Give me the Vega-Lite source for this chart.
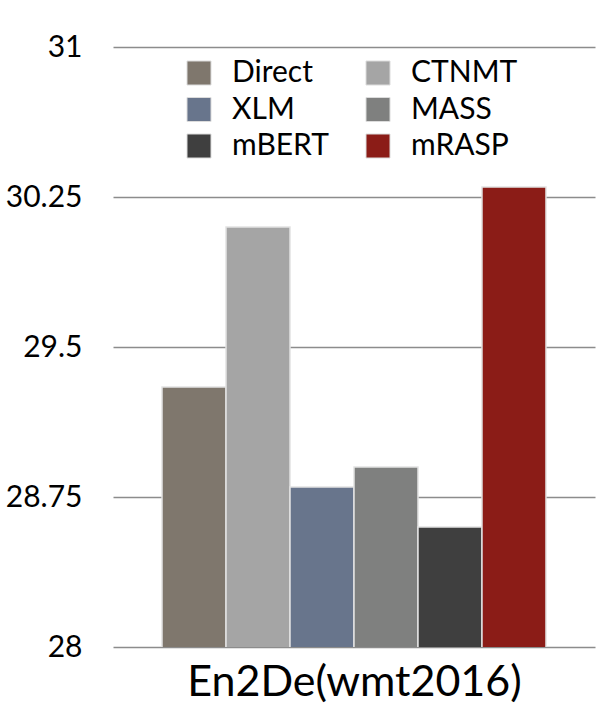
{
  "$schema": "https://vega.github.io/schema/vega-lite/v6.json",
  "width": 482,
  "height": 600,
  "autosize": {"type": "none"},
  "padding": {"left": 113, "top": 47, "right": 1, "bottom": 65},
  "background": "white",
  "config": {
    "view": {"stroke": null},
    "font": "Lato"
  },
  "data": {
    "values": [
      {"model": "Direct", "bleu": 29.3},
      {"model": "CTNMT", "bleu": 30.1},
      {"model": "XLM", "bleu": 28.8},
      {"model": "MASS", "bleu": 28.9},
      {"model": "mBERT", "bleu": 28.6},
      {"model": "mRASP", "bleu": 30.3}
    ]
  },
  "mark": {"type": "bar", "stroke": "#e2e2e2", "strokeWidth": 1.5, "clip": true},
  "encoding": {
    "x": {
      "field": "model",
      "type": "nominal",
      "sort": ["Direct", "CTNMT", "XLM", "MASS", "mBERT", "mRASP"],
      "scale": {"paddingInner": 0, "paddingOuter": 0.766},
      "axis": {
        "title": "En2De(wmt2016)",
        "labels": false,
        "ticks": false,
        "domain": false,
        "titleFont": "Lato",
        "titleFontSize": 43,
        "titleFontWeight": "normal",
        "titleColor": "black",
        "titlePadding": 14
      }
    },
    "y": {
      "field": "bleu",
      "type": "quantitative",
      "scale": {"domain": [28, 31], "zero": false, "nice": false},
      "axis": {
        "title": null,
        "values": [28, 28.75, 29.5, 30.25, 31],
        "labelExpr": "datum.value == 28 ? '28' : datum.value == 31 ? '31' : datum.value == 29.5 ? '29.5' : format(datum.value, '.2f')",
        "domain": false,
        "ticks": false,
        "grid": true,
        "gridColor": "#8c8c8c",
        "gridWidth": 1.5,
        "labelFont": "Lato",
        "labelFontSize": 30,
        "labelColor": "black",
        "labelPadding": 31
      }
    },
    "color": {
      "field": "model",
      "type": "nominal",
      "scale": {
        "domain": ["Direct", "XLM", "mBERT", "CTNMT", "MASS", "mRASP"],
        "range": ["#7f776d", "#68758c", "#3f3f3f", "#a5a5a5", "#7f807f", "#8b1c17"]
      },
      "legend": {
        "title": null,
        "orient": "none",
        "legendX": 71,
        "legendY": 11,
        "columns": 2,
        "columnPadding": 34,
        "rowPadding": 6.5,
        "symbolType": "square",
        "symbolSize": 576,
        "symbolStrokeColor": "#dcdcdc",
        "symbolStrokeWidth": 1,
        "symbolOpacity": 1,
        "labelFont": "Lato",
        "labelFontSize": 30,
        "labelColor": "black",
        "labelOffset": 18,
        "labelLimit": 300
      }
    }
  }
}
